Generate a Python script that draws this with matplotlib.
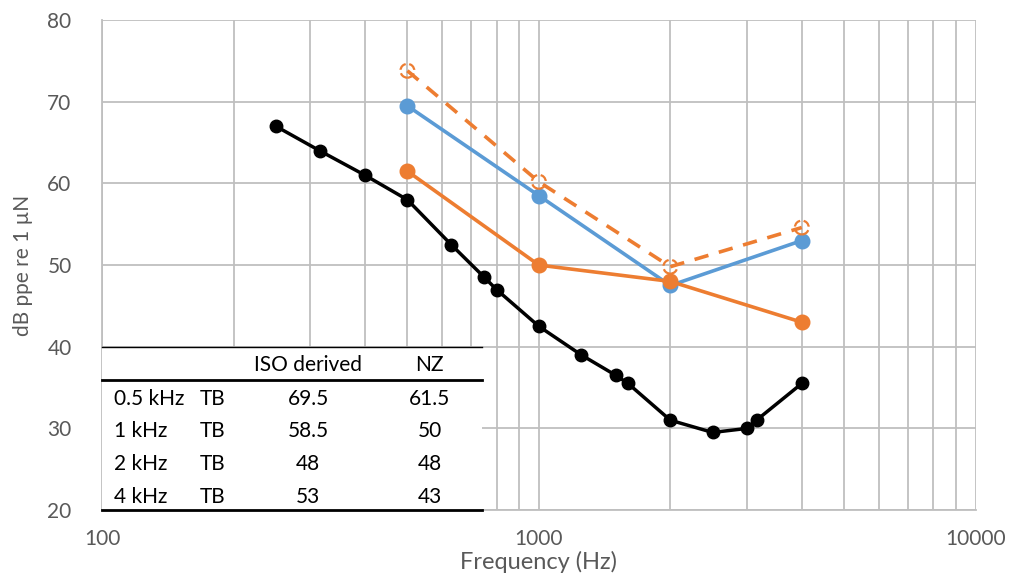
import matplotlib.pyplot as plt
from matplotlib.patches import Rectangle
from matplotlib.ticker import FixedLocator, NullFormatter

plt.rcParams['font.family'] = ['Lato', 'DejaVu Sans']

# ---------------------------------------------------------------------------
# DATA
# ---------------------------------------------------------------------------
ref_freq = [250, 315, 400, 500, 630, 750, 800, 1000, 1250, 1500, 1600,
            2000, 2500, 3000, 3150, 4000]
ref_level = [67, 64, 61, 58, 52.5, 48.5, 47, 42.5, 39, 36.5, 35.5,
             31, 29.5, 30, 31, 35.5]

tb_freq = [500, 1000, 2000, 4000]
iso_level = [69.5, 58.5, 47.5, 53]
nz_level = [61.5, 50, 48, 43]
nz_dashed = [73.8, 60.2, 49.8, 54.6]

table_header = ["", "", "ISO derived", "NZ"]
table_rows = [
    ["0.5 kHz", "TB", "69.5", "61.5"],
    ["1 kHz", "TB", "58.5", "50"],
    ["2 kHz", "TB", "48", "48"],
    ["4 kHz", "TB", "53", "43"],
]

BLUE = "#5B9BD5"
ORANGE = "#ED7D31"
GRID = "#BFBFBF"
TXT = "#595959"

fig = plt.figure(figsize=(10.11, 5.75), dpi=100)
ax = fig.add_axes([0.101, 0.113, 0.864, 0.852])

ax.set_xscale("log")
ax.set_xlim(100, 10000)
ax.set_ylim(20, 80)

# grid
ax.xaxis.set_major_locator(FixedLocator([100, 1000, 10000]))
ax.xaxis.set_minor_locator(FixedLocator(
    [m * d for d in (100, 1000) for m in range(2, 10)]))
ax.xaxis.set_minor_formatter(NullFormatter())
ax.set_xticks([100, 1000, 10000])
ax.set_xticklabels(["100", "1000", "10000"])
ax.set_yticks(range(20, 81, 10))
ax.grid(True, which="both", color=GRID, linewidth=1.3, zorder=0)
ax.tick_params(which="both", length=0, labelsize=15, colors=TXT)
ax.tick_params(axis="y", pad=22)
ax.tick_params(axis="x", pad=14)
for side in ("top", "right"):
    ax.spines[side].set_visible(False)
for side in ("left", "bottom"):
    ax.spines[side].set_color(GRID)
    ax.spines[side].set_linewidth(1.3)

# ---- series ----
ax.plot(ref_freq, ref_level, "-o", color="black", linewidth=2.5,
        markersize=9, zorder=3)
ax.plot(tb_freq, iso_level, "-o", color=BLUE, linewidth=2.6,
        markersize=10.5, zorder=4)
ax.plot(tb_freq, nz_level, "-o", color=ORANGE, linewidth=2.6,
        markersize=10.5, zorder=5)
ax.plot(tb_freq, nz_dashed, "--", color=ORANGE, linewidth=2.6,
        dashes=(4, 3), zorder=4)
ax.scatter(tb_freq, nz_dashed, s=100, facecolors="none", edgecolors=ORANGE,
           linewidths=1.6, linestyles="--", zorder=4)

ax.set_xlabel("Frequency (Hz)", fontsize=17, color=TXT, labelpad=1)
ax.set_ylabel("dB ppe re 1 µN", fontsize=15, color=TXT, labelpad=10)

# ---- embedded table ----
tr = ax.transAxes
ax.add_patch(Rectangle((0.0, 0.0), 0.435, 0.333, transform=tr,
                       facecolor="white", edgecolor="none", zorder=6,
                       clip_on=False))
ax.plot([0.0, 0.435], [0.333, 0.333], transform=tr, color="black",
        linewidth=1.0, zorder=7, clip_on=False)
ax.plot([0.0, 0.435], [0.265, 0.265], transform=tr, color="black",
        linewidth=2.0, zorder=7, clip_on=False)
ax.plot([0.0, 0.435], [0.0, 0.0], transform=tr, color="black",
        linewidth=2.0, zorder=7, clip_on=False)

col_x = [0.0137, 0.112, 0.236, 0.375]
col_ha = ["left", "left", "center", "center"]
row_y = [0.296, 0.2265, 0.161, 0.094, 0.0265]

for j, txt in enumerate(table_header):
    ax.text(col_x[j], row_y[0], txt, transform=tr, ha=col_ha[j],
            va="center", fontsize=15, color="black", zorder=8)
for i, row in enumerate(table_rows):
    for j, txt in enumerate(row):
        ax.text(col_x[j], row_y[i + 1], txt, transform=tr, ha=col_ha[j],
                va="center", fontsize=15, color="black", zorder=8)

fig.savefig("out.png", dpi=100)
